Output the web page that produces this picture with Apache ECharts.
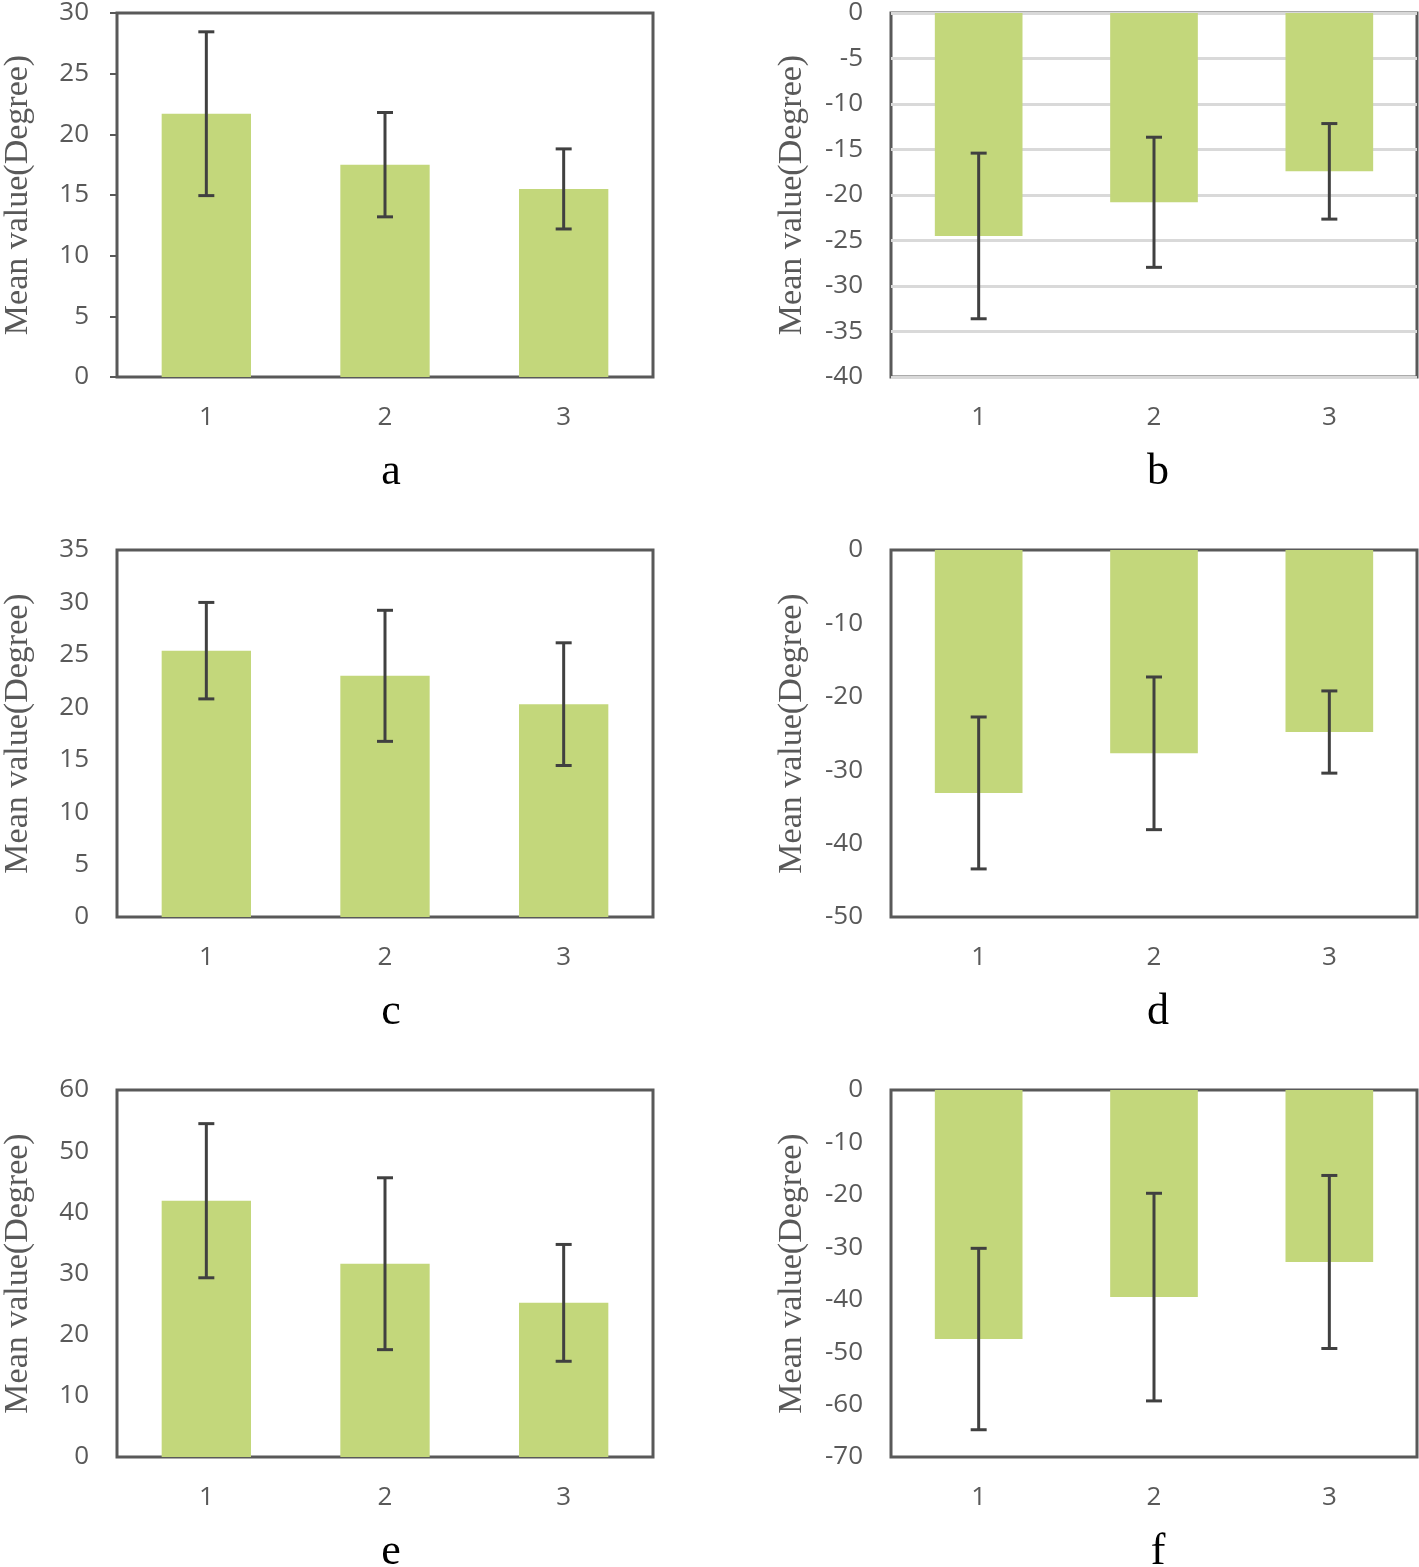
<!DOCTYPE html>
<html>
<head>
<meta charset="utf-8">
<script src="https://cdn.jsdelivr.net/npm/echarts@6/dist/echarts.min.js"></script>
<style>
  html, body { margin: 0; padding: 0; background: #fff; }
  #chart { width: 1419px; height: 1567px; }
</style>
</head>
<body>
<div id="chart"></div>
<script>
// categories shared by all six panels
const categories = ['1', '2', '3'];

// mean values and half error bar
const meanA = [21.7, 17.5, 15.5];
const errA = [6.75, 4.3, 3.3];
const meanB = [-24.5, -20.8, -17.4];
const errB = [9.1, 7.15, 5.25];
const meanC = [25.4, 23.0, 20.3];
const errC = [4.6, 6.25, 5.85];
const meanD = [-33.1, -27.7, -24.8];
const errD = [10.35, 10.4, 5.6];
const meanE = [41.9, 31.6, 25.2];
const errE = [12.6, 14.05, 9.55];
const meanF = [-47.5, -39.5, -32.8];
const errF = [17.3, 19.8, 16.5];

// y axis ranges [min, max, interval]
const rangeA = [0, 30, 5];
const rangeB = [-40, 0, 5];
const rangeC = [0, 35, 5];
const rangeD = [-50, 0, 10];
const rangeE = [0, 60, 10];
const rangeF = [-70, 0, 10];

const panelLetters = ['a', 'b', 'c', 'd', 'e', 'f'];

const barColor = '#c3d77b';
const axisColor = '#595959';
const errColor = '#404040';

const panels = [
  { mean: meanA, err: errA, range: rangeA, grid: { left: 117, top: 11, width: 536, height: 366 }, ticks: true },
  { mean: meanB, err: errB, range: rangeB, grid: { left: 891, top: 11, width: 526, height: 366 }, split: true },
  { mean: meanC, err: errC, range: rangeC, grid: { left: 117, top: 550, width: 536, height: 367 } },
  { mean: meanD, err: errD, range: rangeD, grid: { left: 891, top: 550, width: 526, height: 367 } },
  { mean: meanE, err: errE, range: rangeE, grid: { left: 117, top: 1090, width: 536, height: 367 } },
  { mean: meanF, err: errF, range: rangeF, grid: { left: 891, top: 1090, width: 526, height: 367 } }
];

const myChart = echarts.init(document.getElementById('chart'));

const grids = [];
const xAxes = [];
const yAxes = [];
const series = [];
const graphics = [];

panels.forEach((p, i) => {
  grids.push(Object.assign({
    show: true,
    borderColor: axisColor,
    borderWidth: 3,
    backgroundColor: 'transparent'
  }, p.grid));

  xAxes.push({
    type: 'category',
    gridIndex: i,
    data: categories,
    position: 'bottom',
    axisLine: { show: false, onZero: false },
    axisTick: { show: false },
    axisLabel: { color: axisColor, fontFamily: 'Open Sans', fontSize: 26, margin: 28 }
  });

  yAxes.push({
    type: 'value',
    gridIndex: i,
    min: p.range[0],
    max: p.range[1],
    interval: p.range[2],
    name: 'Mean value(Degree)',
    nameLocation: 'middle',
    nameGap: 82,
    nameTextStyle: { color: axisColor, fontFamily: 'Liberation Serif', fontSize: 34 },
    axisLine: { show: false },
    axisTick: { show: !!p.ticks, length: 7, lineStyle: { color: axisColor, width: 2 } },
    axisLabel: { color: axisColor, fontFamily: 'Open Sans', fontSize: 26, margin: 28 },
    splitLine: { show: !!p.split, lineStyle: { color: '#d9d9d9', width: 3 } }
  });

  series.push({
    type: 'bar',
    xAxisIndex: i,
    yAxisIndex: i,
    data: p.mean,
    barWidth: '50%',
    itemStyle: { color: barColor },
    z: 2
  });

  series.push({
    type: 'custom',
    xAxisIndex: i,
    yAxisIndex: i,
    z: 5,
    data: p.mean.map((m, k) => [k, m, p.err[k]]),
    renderItem: (params, api) => {
      const idx = api.value(0);
      const m = api.value(1);
      const e = api.value(2);
      const hi = api.coord([idx, m + e]);
      const lo = api.coord([idx, m - e]);
      const cap = 8;
      const style = { stroke: errColor, lineWidth: 3 };
      return {
        type: 'group',
        children: [
          { type: 'line', shape: { x1: hi[0], y1: hi[1], x2: lo[0], y2: lo[1] }, style: style },
          { type: 'line', shape: { x1: hi[0] - cap, y1: hi[1], x2: hi[0] + cap, y2: hi[1] }, style: style },
          { type: 'line', shape: { x1: lo[0] - cap, y1: lo[1], x2: lo[0] + cap, y2: lo[1] }, style: style }
        ]
      };
    }
  });

  // panel letter under each chart
  graphics.push({
    type: 'text',
    x: p.grid.left + p.grid.width / 2 + (i % 2 === 0 ? 6 : 4),
    y: p.grid.top + p.grid.height + 95,
    style: {
      text: panelLetters[i],
      font: '44px "Liberation Serif"',
      fill: '#000',
      textAlign: 'center',
      textVerticalAlign: 'middle'
    }
  });
});

myChart.setOption({
  backgroundColor: '#fff',
  animation: false,
  grid: grids,
  xAxis: xAxes,
  yAxis: yAxes,
  series: series,
  graphic: graphics
});
</script>
</body>
</html>
